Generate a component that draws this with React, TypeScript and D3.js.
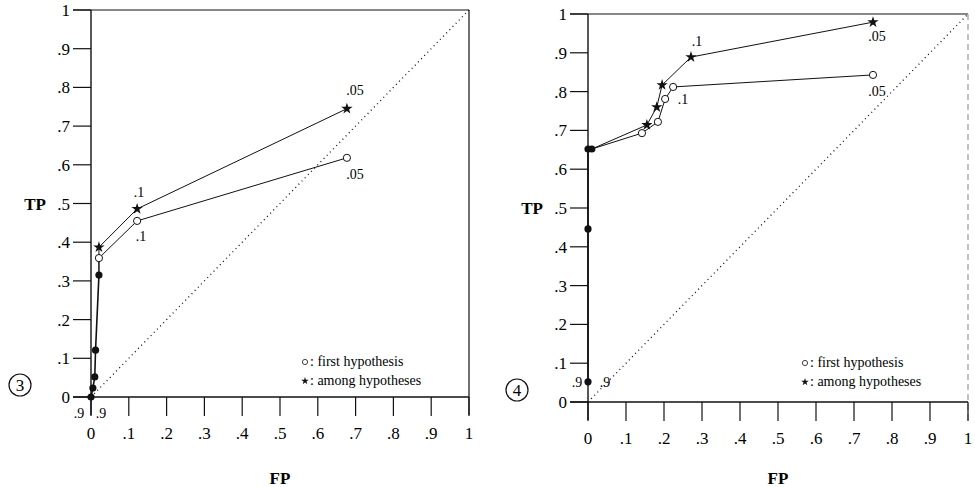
import React from 'react';
import * as d3 from 'd3';

// shared tick values / labels for both axes
const tickValues = [0, 0.1, 0.2, 0.3, 0.4, 0.5, 0.6, 0.7, 0.8, 0.9, 1];
const tickLabels = ['0', '.1', '.2', '.3', '.4', '.5', '.6', '.7', '.8', '.9', '1'];

// panel 3: [FP, TP]
const p3Filled = [[0, 0], [0.005, 0.023], [0.01, 0.052], [0.012, 0.121], [0.021, 0.315]];
const p3Star = [[0.021, 0.387], [0.122, 0.486], [0.677, 0.745]];
const p3Circle = [[0.021, 0.359], [0.122, 0.455], [0.677, 0.618]];

// panel 4
const p4Filled = [[0, 0.052], [0, 0.446], [0, 0.652], [0.01, 0.652]];
const p4Star = [[0.155, 0.714], [0.181, 0.76], [0.195, 0.817], [0.271, 0.889], [0.75, 0.979]];
const p4Circle = [[0.142, 0.693], [0.184, 0.722], [0.203, 0.781], [0.224, 0.812], [0.75, 0.843]];

// threshold annotations: [FP, TP, text, dx, dy]
const p3Notes: [number, number, string, number, number][] = [
  [0.677, 0.745, '.05', 8, -14],
  [0.677, 0.618, '.05', 8, 21],
  [0.122, 0.486, '.1', 2, -12],
  [0.122, 0.455, '.1', 4, 20],
];
const p4Notes: [number, number, string, number, number][] = [
  [0.271, 0.889, '.1', 6, -11],
  [0.224, 0.812, '.1', 10, 17],
  [0.75, 0.979, '.05', 4, 19],
  [0.75, 0.843, '.05', 4, 21],
];

const font = '"Liberation Serif", "DejaVu Serif", serif';

type Pt = number[];

function Panel({ x0, x1, y0, y1, filled, star, circle, notes, num, nineL, nineR, dashedRight, legendX, legendY }: any) {
  const x = d3.scaleLinear().domain([0, 1]).range([x0, x1]);
  const y = d3.scaleLinear().domain([0, 1]).range([y0, y1]);
  const line = d3.line<Pt>().x(d => x(d[0])).y(d => y(d[1]));
  const last = filled[filled.length - 1];
  const starPath = d3.symbol().type(d3.symbolStar).size(40)();

  return (
    <g>
      {/* frame */}
      <line x1={x0 - 18} x2={x1} y1={y(1)} y2={y(1)} stroke="#111" strokeWidth={1.2} />
      <line x1={x1} x2={x1} y1={y(1)} y2={y0 + 18} stroke={dashedRight ? '#999' : '#111'} strokeWidth={1.2} strokeDasharray={dashedRight ? '6,4' : null} />
      <line x1={x0} x2={x0} y1={y(1)} y2={y0 + 18} stroke="#111" strokeWidth={1.4} />
      <line x1={x0 - 18} x2={x1} y1={y0} y2={y0} stroke="#111" strokeWidth={1.4} />
      {/* diagonal */}
      <line x1={x(0)} y1={y(0)} x2={x(1)} y2={y(1)} stroke="#111" strokeWidth={1.3} strokeDasharray="1,3.5" />
      {/* y ticks */}
      {tickValues.map((t, i) => (
        <g key={'y' + i}>
          <line x1={x0 - 18} x2={x0} y1={y(t)} y2={y(t)} stroke="#111" strokeWidth={1.2} />
          <text x={x0 - 21} y={y(t) + 6} textAnchor="end" fontSize={17} fontFamily={font}>{tickLabels[i]}</text>
        </g>
      ))}
      {/* x ticks */}
      {tickValues.map((t, i) => (
        <g key={'x' + i}>
          <line x1={x(t)} x2={x(t)} y1={y0} y2={y0 + 19} stroke="#111" strokeWidth={1.2} />
          <text x={x(t)} y={y0 + 42} textAnchor="middle" fontSize={17} fontFamily={font}>{tickLabels[i]}</text>
        </g>
      ))}
      <text x={x0 - 56} y={y(0.5) + 6} fontSize={17} fontWeight="bold" fontFamily={font} textAnchor="middle">TP</text>
      <text x={x(0.5)} y={484} fontSize={17} fontWeight="bold" fontFamily={font} textAnchor="middle">FP</text>
      <circle cx={x0 - 71} cy={y0 - 12} r={11} fill="none" stroke="#111" strokeWidth={1.2} />
      <text x={x0 - 71} y={y0 - 6} fontSize={17} fontFamily={font} textAnchor="middle">{num}</text>
      <text x={x0 + nineL[0]} y={y0 + nineL[1]} fontSize={14} fontFamily={font} textAnchor="middle">.9</text>
      <text x={x0 + nineR[0]} y={y0 + nineR[1]} fontSize={14} fontFamily={font} textAnchor="middle">.9</text>
      {/* curves */}
      <path d={line(filled) || ''} fill="none" stroke="#111" strokeWidth={1.6} />
      <path d={line([last, ...star]) || ''} fill="none" stroke="#111" strokeWidth={1} />
      <path d={line([last, ...circle]) || ''} fill="none" stroke="#111" strokeWidth={1} />
      {filled.map((d: Pt, i: number) => (
        <circle key={'f' + i} cx={x(d[0])} cy={y(d[1])} r={3.6} fill="#111" />
      ))}
      {circle.map((d: Pt, i: number) => (
        <circle key={'c' + i} cx={x(d[0])} cy={y(d[1])} r={3.6} fill="#fff" stroke="#111" strokeWidth={1} />
      ))}
      {star.map((d: Pt, i: number) => (
        <path key={'s' + i} d={starPath || ''} transform={`translate(${x(d[0])},${y(d[1])})`} fill="#111" />
      ))}
      {notes.map((n: any, i: number) => (
        <text key={'n' + i} x={x(n[0]) + n[3]} y={y(n[1]) + n[4]} fontSize={14} fontFamily={font} textAnchor="middle">{n[2]}</text>
      ))}
      {/* legend */}
      <g fontFamily={font} fontSize={14}>
        <circle cx={legendX + 3} cy={legendY - 4} r={2.6} fill="none" stroke="#111" strokeWidth={0.8} />
        <text x={legendX + 8} y={legendY}>: first hypothesis</text>
        <path d={d3.symbol().type(d3.symbolStar).size(18)() || ''} transform={`translate(${legendX + 3},${legendY + 15})`} fill="#111" />
        <text x={legendX + 8} y={legendY + 19}>: among hypotheses</text>
      </g>
    </g>
  );
}

export default function App() {
  return (
    <svg width={975} height={487} style={{ position: 'absolute', left: 0, top: 0, background: '#fff' }}>
      <Panel x0={91} x1={469} y0={397} y1={10} filled={p3Filled} star={p3Star} circle={p3Circle}
        notes={p3Notes} num="3" nineL={[-12, 21]} nineR={[10, 21]} dashedRight={false}
        legendX={302} legendY={366} />
      <Panel x0={588} x1={968} y0={402} y1={14} filled={p4Filled} star={p4Star} circle={p4Circle}
        notes={p4Notes} num="4" nineL={[-11, -15]} nineR={[17, -15]} dashedRight={true}
        legendX={802} legendY={367} />
    </svg>
  );
}
